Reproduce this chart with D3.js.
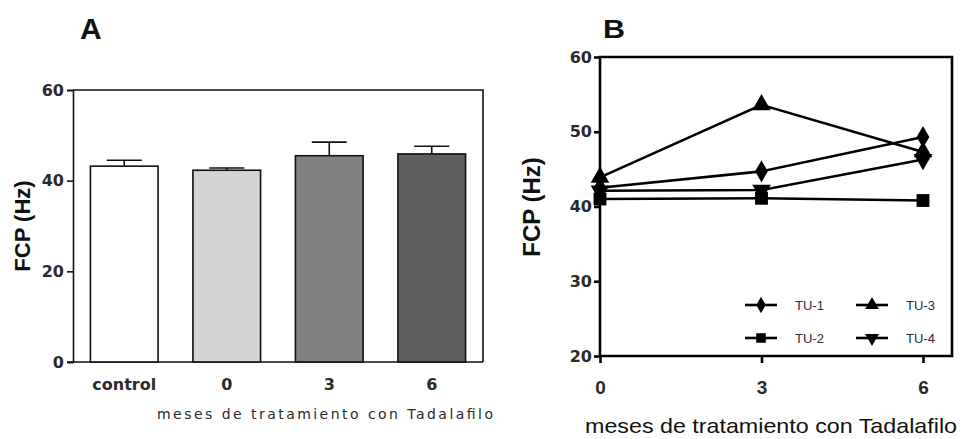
<!DOCTYPE html>
<html><head><meta charset="utf-8">
<script src="https://cdn.jsdelivr.net/npm/d3@7"></script>
<style>body{margin:0;background:#fff}svg{display:block}</style>
</head><body>
<svg id="c" width="965" height="439"></svg>
<script>
// Panel A data
const categoriesA = ["control", "0", "3", "6"];
const meansA = [43.2, 42.3, 45.5, 45.9];
const errTopA = [44.5, 42.8, 48.5, 47.6];
const fillsA = ["#ffffff", "#d4d4d4", "#808080", "#606060"];
const yTicksA = [0, 20, 40, 60];
// Panel B data
const monthsB = [0, 3, 6];
const seriesNames = ["TU-1", "TU-2", "TU-3", "TU-4"];
const tu1 = [42.5, 44.7, 49.3];
const tu2 = [41.0, 41.1, 40.8];
const tu3 = [43.9, 53.6, 47.3];
const tu4 = [42.1, 42.2, 46.3];
const yTicksB = [20, 30, 40, 50, 60];
const xTitle = "meses de tratamiento con Tadalafilo";

const svg = d3.select("#c");
const txt = "#2a2a2a";

// ---------- Panel A ----------
const A = {l: 73, r: 483, t: 90, b: 362};
const xA = d3.scaleBand().domain(categoriesA).range([A.l, A.r]).paddingInner(0.34).paddingOuter(0.17);
const yA = d3.scaleLinear().domain([0, 60]).range([A.b, A.t]);
const gA = svg.append("g");
gA.append("path").attr("d", `M${A.l},${A.t}H${A.r}V${A.b}`).attr("fill", "none").attr("stroke", "#111").attr("stroke-width", 1.6);
const axA = gA.append("g").attr("transform", `translate(${A.l},0)`)
  .call(d3.axisLeft(yA).tickValues(yTicksA).tickSize(6).tickPadding(3));
axA.select(".domain").attr("stroke", "#111").attr("stroke-width", 1.6);
axA.selectAll(".tick line").attr("stroke", "#111").attr("stroke-width", 1.6);
axA.selectAll("text").attr("font-family", "DejaVu Sans").attr("font-weight", "bold").attr("font-size", 16).attr("fill", txt);
gA.append("line").attr("x1", A.l - 6).attr("x2", A.r).attr("y1", A.b).attr("y2", A.b).attr("stroke", "#111").attr("stroke-width", 1.6);
categoriesA.forEach((c, i) => {
  const cx = xA(c) + xA.bandwidth() / 2;
  gA.append("line").attr("x1", cx).attr("x2", cx).attr("y1", yA(meansA[i])).attr("y2", yA(errTopA[i])).attr("stroke", "#111").attr("stroke-width", 1.6);
  gA.append("line").attr("x1", cx - 17.5).attr("x2", cx + 17.5).attr("y1", yA(errTopA[i])).attr("y2", yA(errTopA[i])).attr("stroke", "#111").attr("stroke-width", 1.6);
});
gA.selectAll("rect.bar").data(categoriesA).join("rect").attr("class", "bar")
  .attr("x", d => xA(d)).attr("width", xA.bandwidth())
  .attr("y", (d, i) => yA(meansA[i])).attr("height", (d, i) => yA(0) - yA(meansA[i]))
  .attr("fill", (d, i) => fillsA[i]).attr("stroke", "#111").attr("stroke-width", 1.6);
gA.selectAll("text.cat").data(categoriesA).join("text").attr("class", "cat")
  .attr("x", d => xA(d) + xA.bandwidth() / 2).attr("y", 390).attr("text-anchor", "middle")
  .attr("font-family", "DejaVu Sans").attr("font-weight", "bold").attr("font-size", 16).attr("fill", txt).text(d => d);
gA.append("text").attr("x", 157).attr("y", 419).attr("font-family", "DejaVu Sans").attr("font-size", 14)
  .attr("fill", txt).attr("textLength", 336).attr("lengthAdjust", "spacing").text(xTitle);
gA.append("text").attr("transform", "translate(30,226) rotate(-90)").attr("text-anchor", "middle")
  .attr("font-family", "Liberation Sans").attr("font-weight", "bold").attr("font-size", 22).attr("fill", "#111").text("FCP (Hz)");
gA.append("text").attr("x", 80).attr("y", 39).attr("font-family", "Liberation Sans").attr("font-weight", "bold").attr("font-size", 30).attr("fill", "#111").text("A");

// ---------- Panel B ----------
const B = {l: 600, r: 952, t: 57, b: 356};
const xB = d3.scaleLinear().domain([0, 6]).range([600, 923]);
const yB = d3.scaleLinear().domain([20, 60]).range([B.b, B.t]);
const gB = svg.append("g");
gB.append("path").attr("d", `M${B.l},${B.t}H${B.r}V${B.b}H${B.l}Z`).attr("fill", "none").attr("stroke", "#000").attr("stroke-width", 2.6);
const ayB = gB.append("g").attr("transform", `translate(${B.l},0)`)
  .call(d3.axisLeft(yB).tickValues(yTicksB).tickSize(6).tickPadding(2));
ayB.select(".domain").remove();
ayB.selectAll(".tick line").attr("stroke", "#000").attr("stroke-width", 2.6);
ayB.selectAll("text").attr("font-family", "DejaVu Sans").attr("font-weight", "bold").attr("font-size", 16).attr("fill", txt);
const axB = gB.append("g").attr("transform", `translate(0,${B.b})`)
  .call(d3.axisBottom(xB).tickValues(monthsB).tickFormat(d3.format("d")).tickSize(7).tickPadding(18));
axB.select(".domain").remove();
axB.selectAll(".tick line").attr("stroke", "#000").attr("stroke-width", 2.6);
axB.selectAll("text").attr("font-family", "Liberation Sans").attr("font-weight", "bold").attr("font-size", 19).attr("fill", txt);

const seriesB = [tu1, tu2, tu3, tu4];
const symbols = [d3.symbolDiamond, d3.symbolSquare, d3.symbolTriangle, d3.symbolTriangle];
const symSize = [140, 165, 150, 150];
const rot = [0, 0, 0, 180];
const line = d3.line().x((d, i) => xB(monthsB[i])).y(d => yB(d));
seriesB.forEach((s) => {
  gB.append("path").attr("d", line(s)).attr("fill", "none").attr("stroke", "#000").attr("stroke-width", 2.6);
});
seriesB.forEach((s, k) => {
  gB.selectAll(null).data(s).join("path")
    .attr("transform", (d, i) => `translate(${xB(monthsB[i])},${yB(d)}) rotate(${rot[k]})`)
    .attr("d", d3.symbol(symbols[k], symSize[k])).attr("fill", "#000");
});
const legPos = [[761, 305], [761, 338], [872, 305], [872, 338]];
seriesNames.forEach((n, k) => {
  const [cx, cy] = legPos[k];
  gB.append("line").attr("x1", cx - 16).attr("x2", cx + 16).attr("y1", cy).attr("y2", cy).attr("stroke", "#000").attr("stroke-width", 2.6);
  gB.append("path").attr("transform", `translate(${cx},${cy}) rotate(${rot[k]})`).attr("d", d3.symbol(symbols[k], symSize[k] * 0.55)).attr("fill", "#000");
  gB.append("text").attr("x", cx + 34).attr("y", cy + 5).attr("font-family", "Liberation Sans").attr("font-size", 13).attr("fill", "#2a2a3a").text(n);
});
gB.append("text").attr("x", 585).attr("y", 433).attr("font-family", "Liberation Sans").attr("font-size", 21)
  .attr("fill", "#111").attr("textLength", 372).attr("lengthAdjust", "spacingAndGlyphs").text(xTitle);
gB.append("text").attr("transform", "translate(540,207) rotate(-90)").attr("text-anchor", "middle")
  .attr("font-family", "Liberation Sans").attr("font-weight", "bold").attr("font-size", 24).attr("fill", "#111").text("FCP (Hz)");
gB.append("text").attr("x", 603).attr("y", 38).attr("font-family", "Liberation Sans").attr("font-weight", "bold").attr("font-size", 25)
  .attr("fill", "#111").attr("textLength", 22).attr("lengthAdjust", "spacingAndGlyphs").text("B");
</script>
</body></html>
